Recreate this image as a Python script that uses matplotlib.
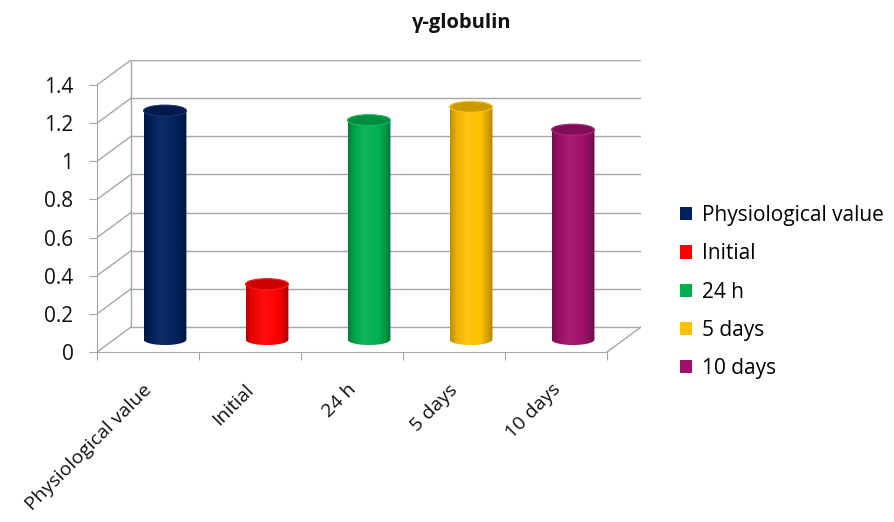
import numpy as np
import matplotlib
matplotlib.use("Agg")
import matplotlib.pyplot as plt
from matplotlib.patches import Ellipse, Patch, PathPatch
from matplotlib.path import Path
from matplotlib.colors import LinearSegmentedColormap, to_rgb

categories = ["Physiological value", "Initial", "24 h", "5 days", "10 days"]
values = [1.20, 0.29, 1.15, 1.22, 1.10]
colors = ["#002060", "#FF0000", "#00B050", "#FFC000", "#A0106B"]
y_ticks = [0, 0.2, 0.4, 0.6, 0.8, 1.0, 1.2, 1.4]
y_tick_labels = ["0", "0.2", "0.4", "0.6", "0.8", "1", "1.2", "1.4"]
title = "γ-globulin"

plt.rcParams['font.family'] = ['Open Sans', 'DejaVu Sans']

W, H = 895, 522
fig = plt.figure(figsize=(W / 100, H / 100), dpi=100)

DEPTH_X = 0.333   # floor depth, in category units
DEPTH_Y = 0.131   # floor depth, in value units
YMAX = 1.4
N = len(categories)
GRID = "#A6A6A6"
FS = 15
TXT = "#111111"

ax = fig.add_axes([97 / W, (H - 352) / H, 544 / W, 292 / H])
ax.set_facecolor("none")

# walls and floor of the 3-D box
for t in y_ticks:
    ax.plot([0, DEPTH_X], [t, t + DEPTH_Y], color=GRID, lw=1, zorder=1)
    ax.plot([DEPTH_X, N + DEPTH_X], [t + DEPTH_Y] * 2, color=GRID, lw=1, zorder=1)
ax.plot([DEPTH_X, DEPTH_X], [DEPTH_Y, YMAX + DEPTH_Y], color=GRID, lw=1, zorder=1)
ax.plot([N, N + DEPTH_X], [0, DEPTH_Y], color=GRID, lw=1, zorder=1)


def shade(c, f):
    r, g, b = to_rgb(c)
    return (r * f, g * f, b * f)


def lighten(c, f):
    r, g, b = to_rgb(c)
    return (r + (1 - r) * f, g + (1 - g) * f, b + (1 - b) * f)


R = 0.21      # cylinder radius (category units)
EH = 0.058    # ellipse height (value units)
base = DEPTH_Y / 2
for i, (v, c) in enumerate(zip(values, colors)):
    cx = i + 0.5 + DEPTH_X / 2
    top = v + base
    theta = np.linspace(np.pi, 2 * np.pi, 60)
    verts = [(cx - R, top), (cx - R, base)]
    verts += [(cx + R * np.cos(t), base + EH / 2 * np.sin(t)) for t in theta]
    verts += [(cx + R, top), (cx - R, top)]
    codes = [Path.MOVETO] + [Path.LINETO] * (len(verts) - 2) + [Path.CLOSEPOLY]
    body = PathPatch(Path(verts, codes), facecolor="none", edgecolor="none",
                     transform=ax.transData)
    ax.add_patch(body)
    cmap = LinearSegmentedColormap.from_list(
        "cyl", [(0.0, shade(c, 0.72)), (0.15, shade(c, 0.93)),
                (0.4, lighten(c, 0.06)), (0.72, c),
                (0.9, shade(c, 0.82)), (1.0, shade(c, 0.68))])
    im = ax.imshow(np.linspace(0, 1, 256)[None, :], cmap=cmap,
                   extent=[cx - R, cx + R, base - EH / 2, top],
                   aspect="auto", interpolation="bilinear", zorder=3)
    im.set_clip_path(body)
    ax.add_patch(Ellipse((cx, top), 2 * R, EH, facecolor=shade(c, 0.8),
                         edgecolor=lighten(c, 0.1), lw=0.8, zorder=4))

ax.set_xlim(0, N + DEPTH_X)
ax.set_ylim(0, YMAX + DEPTH_Y)

# front axes
for s in ("top", "right"):
    ax.spines[s].set_visible(False)
ax.spines["left"].set_bounds(0, YMAX)
ax.spines["bottom"].set_bounds(0, N)
for s in ("left", "bottom"):
    ax.spines[s].set_color(GRID)
ax.set_yticks(y_ticks)
ax.set_yticklabels(y_tick_labels, fontsize=FS, color=TXT)
ax.set_xticks(range(N + 1))
ax.set_xticklabels([])
ax.tick_params(axis="y", length=6, pad=11, color=GRID)
ax.tick_params(axis="x", length=6, color=GRID)

for i, lab in enumerate(categories):
    ax.text(i + 0.45, -0.15, lab, rotation=45, rotation_mode="anchor",
            ha="right", va="top", fontsize=14, color=TXT, clip_on=False)

fig.text(462 / W, 1 - 23 / H, title, ha="center", va="center",
         fontsize=14.5, fontweight="bold", color=TXT)

handles = [Patch(facecolor=c, edgecolor="none") for c in colors]
fig.legend(handles, categories, loc="upper left",
           bbox_to_anchor=(680 / W, 1 - 205 / H), frameon=False, fontsize=FS,
           handlelength=0.6, handleheight=0.6, handletextpad=0.45,
           labelspacing=0.83, borderpad=0, borderaxespad=0)

fig.savefig("out.png", dpi=100)
